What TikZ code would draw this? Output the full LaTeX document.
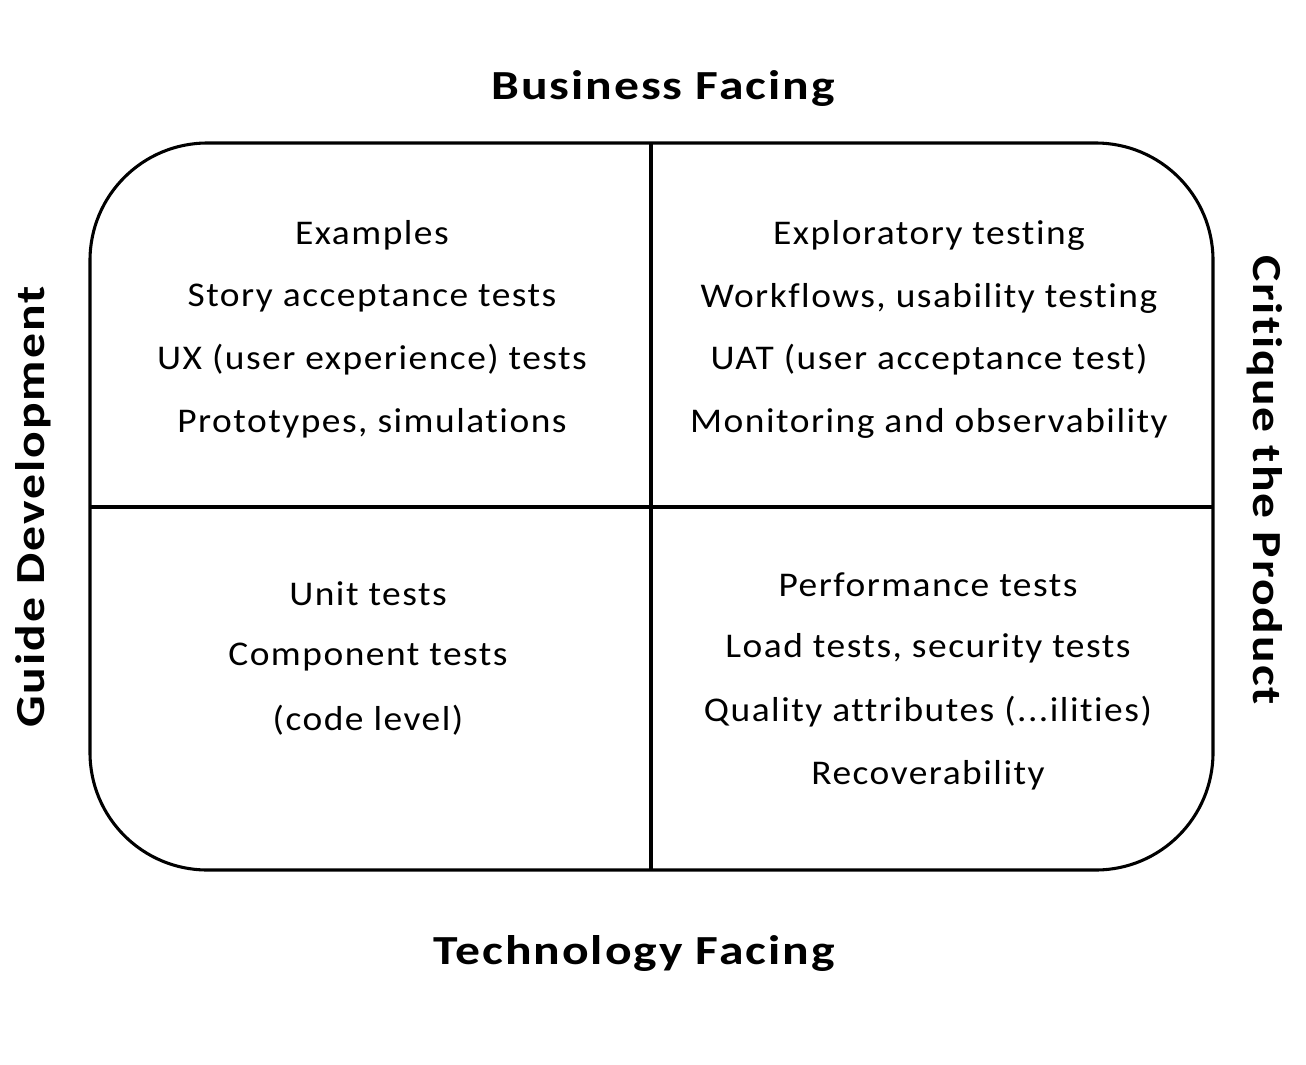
\documentclass[tikz,border=0pt]{standalone}
\usepackage{fontspec}
\setmainfont[Ligatures={NoCommon}]{Carlito}
\newcommand{\itx}[1]{\scalebox{1.08}[1]{\addfontfeature{LetterSpace=4}#1}}
\newcommand{\hdx}[1]{\scalebox{1.2}[1]{\addfontfeature{LetterSpace=4}#1}}
\begin{document}
\begin{tikzpicture}[x=0.75pt,y=-0.75pt,
  item/.style={anchor=center,inner sep=0pt,font=\fontsize{26}{30}\selectfont},
  head/.style={anchor=center,inner sep=0pt,font=\fontsize{31}{36}\selectfont\bfseries},
  frame/.style={draw=black,line width=2.3pt}]
\useasboundingbox (0,0) rectangle (1306,1064);
\fill[white] (0,0) rectangle (1306,1064);
\draw[frame,rounded corners=88pt] (90,143) rectangle (1213,870);
\coordinate (vt) at (651,143);
\coordinate (vb) at (651,870);
\coordinate (hl) at (90,507);
\coordinate (hr) at (1213,507);
\draw[frame] (vt) -- (vb);
\draw[frame] (hl) -- (hr);
\node[head] (bf) at (663,88) {\hdx{Business Facing}};
\node[head] (tf) at (634,953) {\hdx{Technology Facing}};
\node[head,rotate=90] (gd) at (33,507) {\hdx{Guide Development}};
\node[head,rotate=-90] (cp) at (1265,480) {\hdx{Critique the Product}};
\node[item] (a1) at (372,235) {\itx{Examples}};
\node[item] (a2) at (372,298) {\itx{Story acceptance tests}};
\node[item] (a3) at (372,360) {\itx{UX (user experience) tests}};
\node[item] (a4) at (372,423) {\itx{Prototypes, simulations}};
\node[item] (b1) at (929,235) {\itx{Exploratory testing}};
\node[item] (b2) at (929,298) {\itx{Workflows, usability testing}};
\node[item] (b3) at (929,360) {\itx{UAT (user acceptance test)}};
\node[item] (b4) at (929,423) {\itx{Monitoring and observability}};
\node[item] (c1) at (368,594) {\itx{Unit tests}};
\node[item] (c2) at (368,657) {\itx{Component tests}};
\node[item] (c3) at (368,720) {\itx{(code level)}};
\node[item] (d1) at (928,585) {\itx{Performance tests}};
\node[item] (d2) at (928,648) {\itx{Load tests, security tests}};
\node[item] (d3) at (928,712) {\itx{Quality attributes (...ilities)}};
\node[item] (d4) at (928,775) {\itx{Recoverability}};
\end{tikzpicture}
\end{document}
